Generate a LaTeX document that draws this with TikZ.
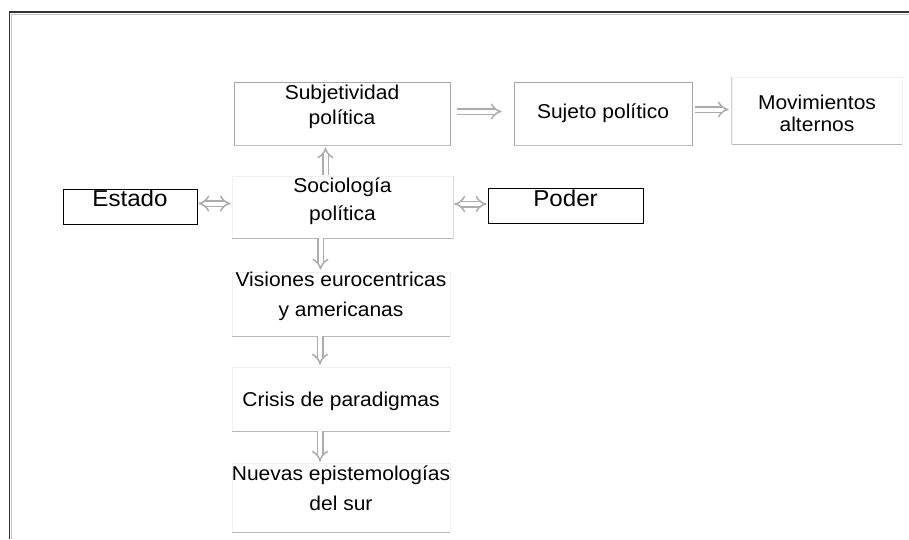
\documentclass[tikz,border=0pt]{standalone}
\usepackage{fontspec}
\setmainfont{Liberation Sans}[FakeStretch=1.05]
\usetikzlibrary{arrows.meta}
\tikzset{
 box/.style={draw=gray!70, line width=0.7pt, fill=white, inner sep=0pt},
 faint/.style={draw=gray!12, line width=0.6pt, fill=white, inner sep=0pt},
 dark/.style={draw=black, line width=0.9pt, fill=white, inner sep=0pt},
 shade/.style={draw=gray!55, line width=1pt},
 dbl/.style={draw=gray!65, line width=1.5pt, double=white, double distance=4pt, -{Implies[scale=1.5]}},
 dbltwo/.style={draw=gray!65, line width=1.5pt, double=white, double distance=4pt, {Implies[scale=1.5]}-{Implies[scale=1.5]}},
 txt/.style={align=center, inner sep=0pt},
 frame/.style={draw=black!80, line width=1.8pt},
}
\begin{document}
\begin{tikzpicture}[x=1pt, y=-1pt]
\useasboundingbox (0,0) rectangle (909,539);
\fill[white] (0,0) rectangle (909,539);
% outer frame
\draw[gray!45, line width=1pt] (11.8,539) -- (11.8,14.8) -- (909,14.8);
\draw[frame] (9.5,539) -- (9.5,12) -- (909,12);

% boxes
\node[box, minimum width=216pt, minimum height=63pt,
  label={[txt, font=\fontsize{20}{25}\selectfont, yshift=6.2pt]center:{Subjetividad\\política}}] (subj) at (342,113.5) {};
\node[box, minimum width=178pt, minimum height=63pt,
  label={[txt, font=\fontsize{20}{25}\selectfont, yshift=0.5pt]center:{Sujeto político}}] (suj) at (603,113.5) {};
\node[faint, minimum width=170pt, minimum height=67pt,
  label={[txt, font=\fontsize{20}{22}\selectfont, yshift=-3.2pt]center:{Movimientos\\alternos}}] (mov) at (817,110.5) {};
\node[dark, minimum width=134pt, minimum height=35pt,
  label={[txt, font=\fontsize{23}{26}\selectfont, yshift=7.8pt]center:{Estado}}] (est) at (130,206.5) {};
\node[faint, minimum width=221pt, minimum height=62pt,
  label={[txt, font=\fontsize{20}{28}\selectfont, yshift=6.2pt]center:{Sociología\\política}}] (soc) at (342.5,207) {};
\node[dark, minimum width=155pt, minimum height=35pt,
  label={[txt, font=\fontsize{23}{26}\selectfont, yshift=6.8pt]center:{Poder}}] (pod) at (565.5,205.5) {};
\node[faint, minimum width=218pt, minimum height=64pt,
  label={[txt, font=\fontsize{20}{30}\selectfont, yshift=7.2pt]center:{Visiones eurocentricas\\y americanas}}] (vis) at (341,304) {};
\node[faint, minimum width=218pt, minimum height=64pt,
  label={[txt, font=\fontsize{20}{25}\selectfont, yshift=-2.8pt]center:{Crisis de paradigmas}}] (cri) at (341,399) {};
\node[faint, minimum width=218pt, minimum height=69pt,
  label={[txt, font=\fontsize{20}{30}\selectfont, yshift=9.7pt]center:{Nuevas epistemologías\\del sur}}] (nue) at (341,497.5) {};

% shadow edges of the faint boxes
\draw[shade] (soc.south west) -- (soc.south east);
\draw[shade] (vis.south west) -- (vis.south east);
\draw[shade] (cri.south west) -- (cri.south east);
\draw[shade] (nue.south west) -- (nue.south east);
\draw[shade] (mov.south west) -- (mov.south east);
\draw[draw=gray!35, line width=0.8pt] (mov.south west) -- (mov.north west);
\draw[draw=gray!30, line width=0.8pt] (soc.south east) -- (soc.north east);
\draw[draw=gray!50, line width=0.8pt] (subj.south west) -- (subj.south east);
\draw[draw=gray!50, line width=0.8pt] (suj.south west) -- (suj.south east);

% connectors
\draw[dbl, shorten <=7pt, shorten >=12pt] ([yshift=2pt]subj.east) -- ([yshift=2pt]subj.east -| suj.west);
\draw[dbl, shorten <=3pt, shorten >=3pt] ([yshift=4pt]suj.east) -- ([yshift=4pt]suj.east -| mov.west);
\draw[dbltwo, shorten <=1pt, shorten >=1pt] ([yshift=3pt]est.east) -- ([yshift=3pt]est.east -| soc.west);
\draw[dbltwo, shorten <=1pt, shorten >=1pt] ([yshift=3pt]soc.east) -- ([yshift=3pt]soc.east -| pod.west);
\draw[dbl, shorten <=1pt, shorten >=2pt] ([xshift=-17pt]soc.north) -- ([xshift=-17pt]soc.north |- subj.south);
\draw[dbl, shorten <=0pt, shorten >=2pt] ([xshift=-22pt]soc.south) -- ([xshift=-22pt]soc.south |- vis.north);
\draw[dbl, shorten <=0pt, shorten >=2pt] ([xshift=-21pt]vis.south) -- ([xshift=-21pt]vis.south |- cri.north);
\draw[dbl, shorten <=0pt, shorten >=1pt] ([xshift=-21pt]cri.south) -- ([xshift=-21pt]cri.south |- nue.north);
\end{tikzpicture}
\end{document}
